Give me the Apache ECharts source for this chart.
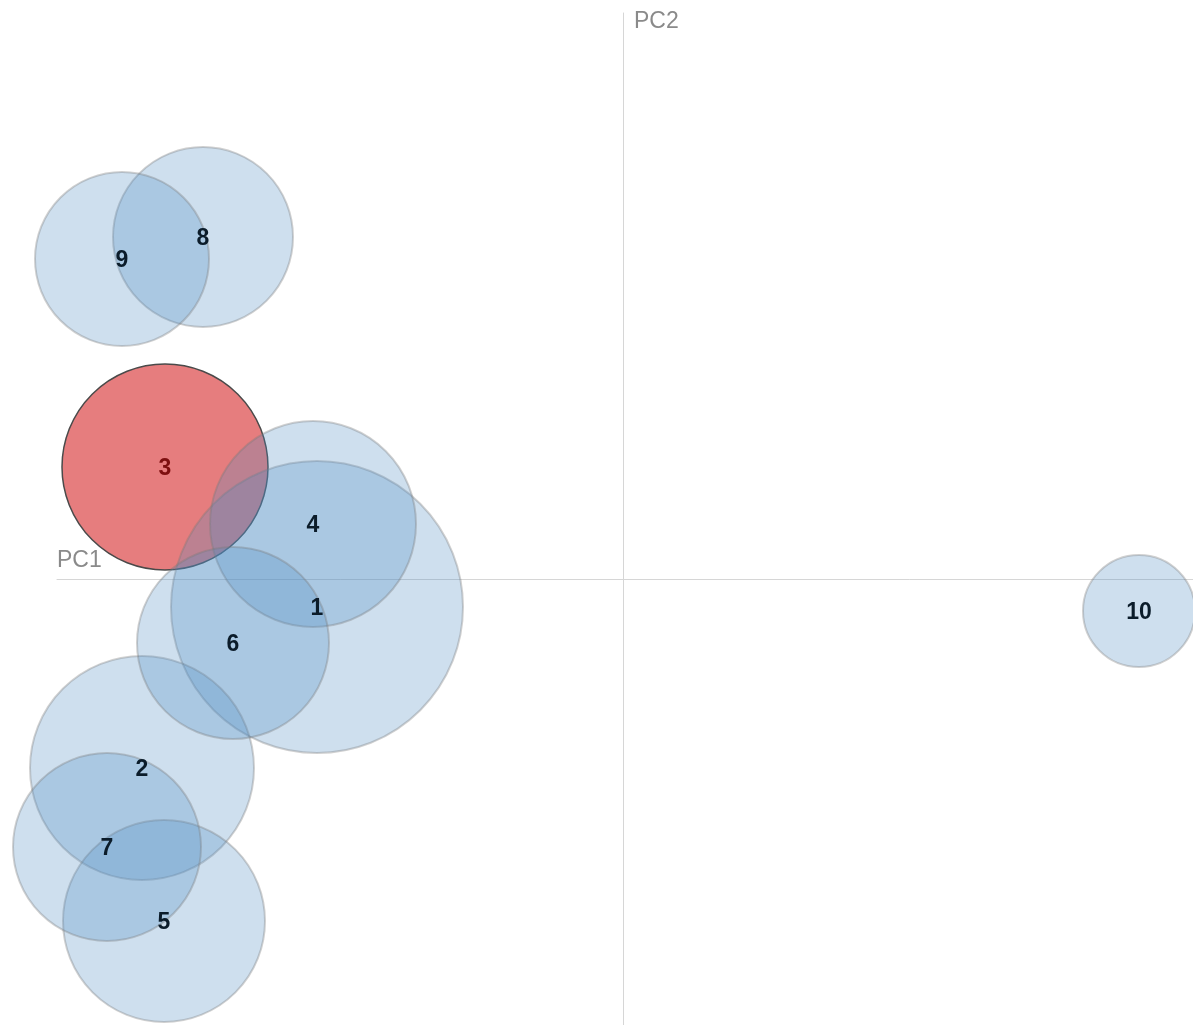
<!DOCTYPE html>
<html>
<head>
<meta charset="utf-8">
<title>PCA bubbles</title>
<script src="https://cdn.jsdelivr.net/npm/echarts@6/dist/echarts.min.js"></script>
<style>
  html, body { margin: 0; padding: 0; background: #fff; }
  #chart { width: 1193px; height: 1025px; }
</style>
</head>
<body>
<div id="chart"></div>
<script>
// sample ids, principal component scores and bubble magnitude
const ids = ['1', '2', '3', '4', '5', '6', '7', '8', '9', '10'];
const pc1 = [-3.06, -4.81, -4.58, -3.10, -4.59, -3.90, -5.16, -4.20, -5.01, 5.16];
const pc2 = [-0.28, -1.89, 1.12, 0.55, -3.42, -0.64, -2.68, 3.42, 3.20, -0.32];
const magnitude = [14.6, 11.2, 10.3, 10.3, 10.1, 9.6, 9.4, 9.0, 8.7, 5.6];
const highlighted = ['3'];

const chart = echarts.init(document.getElementById('chart'));

const points = ids.map((id, i) => [pc1[i], pc2[i], magnitude[i], id]);
const redPoints = points.filter(p => highlighted.includes(p[3]));
const bluePoints = points.filter(p => !highlighted.includes(p[3]));

const labelFont = {
  show: true,
  position: 'inside',
  formatter: p => p.value[3],
  fontFamily: 'Liberation Sans, Arial, sans-serif',
  fontWeight: 'bold',
  fontSize: 23,
  offset: [0, 2]
};

chart.setOption({
  animation: false,
  grid: { left: 57, right: 0, top: 13, bottom: 0 },
  xAxis: {
    type: 'value',
    min: -5.66, max: 5.70,
    name: 'PC1',
    nameLocation: 'start',
    nameGap: 0,
    nameTextStyle: {
      color: '#8a8a8a', fontSize: 23, fontFamily: 'Liberation Sans, Arial, sans-serif',
      align: 'left', verticalAlign: 'bottom', padding: [0, 0, 7, 0]
    },
    axisLine: { onZero: true, lineStyle: { color: '#d6d6d6', width: 1 } },
    axisTick: { show: false },
    axisLabel: { show: false },
    splitLine: { show: false }
  },
  yAxis: {
    type: 'value',
    min: -4.46, max: 5.66,
    name: 'PC2',
    nameLocation: 'end',
    nameGap: 0,
    nameTextStyle: {
      color: '#8a8a8a', fontSize: 23, fontFamily: 'Liberation Sans, Arial, sans-serif',
      align: 'left', verticalAlign: 'top', padding: [-3, 0, 0, 11]
    },
    axisLine: { onZero: true, lineStyle: { color: '#d6d6d6', width: 1 } },
    axisTick: { show: false },
    axisLabel: { show: false },
    splitLine: { show: false }
  },
  series: [
    {
      type: 'scatter',
      z: 2,
      data: redPoints,
      symbolSize: v => v[2] * 20,
      itemStyle: {
        color: 'rgba(214,39,40,0.6)',
        borderColor: '#4a4a4a',
        borderWidth: 1.5,
        opacity: 1
      },
      label: Object.assign({}, labelFont, { color: '#7d1010' })
    },
    {
      type: 'scatter',
      z: 3,
      data: bluePoints,
      symbolSize: v => v[2] * 20,
      itemStyle: {
        color: 'rgba(80,140,195,0.28)',
        borderColor: 'rgba(120,120,120,0.35)',
        borderWidth: 2,
        opacity: 1
      },
      label: Object.assign({}, labelFont, { color: '#0b1c2a' })
    }
  ]
});
</script>
</body>
</html>
